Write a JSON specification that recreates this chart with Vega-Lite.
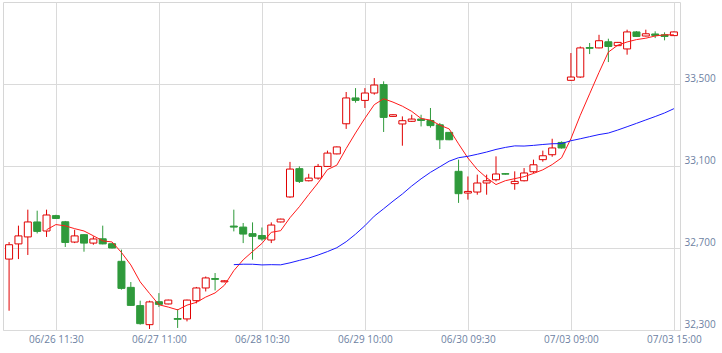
{
  "$schema": "https://vega.github.io/schema/vega-lite/v6.json",
  "width": 677,
  "height": 328,
  "autosize": {"type": "none"},
  "padding": {"left": 3, "top": 2, "right": 42, "bottom": 23},
  "background": "white",
  "config": {
    "view": {"stroke": "#d6d6d6", "strokeWidth": 1},
    "axis": {"gridColor": "#dadada", "gridWidth": 1, "labelFont": "Open Sans", "labelFontSize": 10, "labelColor": "#6d7fa2", "ticks": false, "tickSize": 0, "domain": false, "title": null, "labelOverlap": false, "labelBound": false}
  },
  "data": {"values": [
    {"t":"06/26 09:00","o":32646,"h":32729,"l":32394,"c":32716,"ma5":null,"ma25":null},
    {"t":"06/26 09:30","o":32720,"h":32809,"l":32646,"c":32759,"ma5":null,"ma25":null},
    {"t":"06/26 10:00","o":32754,"h":32887,"l":32666,"c":32827,"ma5":null,"ma25":null},
    {"t":"06/26 10:30","o":32827,"h":32882,"l":32771,"c":32781,"ma5":null,"ma25":null},
    {"t":"06/26 11:00","o":32783,"h":32887,"l":32754,"c":32861,"ma5":32788.8,"ma25":null},
    {"t":"06/26 11:30","o":32858,"h":32862,"l":32842,"c":32844,"ma5":32814.4,"ma25":null},
    {"t":"06/26 12:30","o":32828,"h":32832,"l":32705,"c":32727,"ma5":32808,"ma25":null},
    {"t":"06/26 13:00","o":32729,"h":32789,"l":32724,"c":32759,"ma5":32794.4,"ma25":null},
    {"t":"06/26 13:30","o":32765,"h":32767,"l":32682,"c":32724,"ma5":32783,"ma25":null},
    {"t":"06/26 14:00","o":32724,"h":32757,"l":32716,"c":32744,"ma5":32759.6,"ma25":null},
    {"t":"06/26 14:30","o":32745,"h":32809,"l":32718,"c":32720,"ma5":32734.8,"ma25":null},
    {"t":"06/26 15:00","o":32721,"h":32723,"l":32698,"c":32700,"ma5":32729.4,"ma25":null},
    {"t":"06/27 09:00","o":32635,"h":32692,"l":32497,"c":32503,"ma5":32678.2,"ma25":null},
    {"t":"06/27 09:30","o":32508,"h":32534,"l":32418,"c":32420,"ma5":32617.4,"ma25":null},
    {"t":"06/27 10:00","o":32419,"h":32443,"l":32326,"c":32331,"ma5":32534.8,"ma25":null},
    {"t":"06/27 10:30","o":32326,"h":32443,"l":32305,"c":32437,"ma5":32478.2,"ma25":null},
    {"t":"06/27 11:00","o":32438,"h":32480,"l":32412,"c":32425,"ma5":32423.2,"ma25":null},
    {"t":"06/27 11:30","o":32427,"h":32448,"l":32425,"c":32446,"ma5":32411.8,"ma25":null},
    {"t":"06/27 12:30","o":32356,"h":32402,"l":32310,"c":32352,"ma5":32398.2,"ma25":null},
    {"t":"06/27 13:00","o":32354,"h":32448,"l":32342,"c":32446,"ma5":32421.2,"ma25":null},
    {"t":"06/27 13:30","o":32443,"h":32510,"l":32430,"c":32505,"ma5":32434.8,"ma25":null},
    {"t":"06/27 14:00","o":32505,"h":32561,"l":32488,"c":32554,"ma5":32460.6,"ma25":null},
    {"t":"06/27 14:30","o":32551,"h":32578,"l":32493,"c":32547,"ma5":32480.8,"ma25":null},
    {"t":"06/27 15:00","o":32535,"h":32542,"l":32533,"c":32540,"ma5":32518.4,"ma25":null},
    {"t":"06/28 09:00","o":32807,"h":32887,"l":32781,"c":32802,"ma5":32589.6,"ma25":32618.8},
    {"t":"06/28 09:30","o":32802,"h":32822,"l":32724,"c":32768,"ma5":32642.2,"ma25":32620.9},
    {"t":"06/28 10:00","o":32770,"h":32825,"l":32643,"c":32757,"ma5":32682.8,"ma25":32620.8},
    {"t":"06/28 10:30","o":32761,"h":32800,"l":32736,"c":32744,"ma5":32722.2,"ma25":32617.5},
    {"t":"06/28 11:00","o":32739,"h":32825,"l":32724,"c":32812,"ma5":32776.6,"ma25":32618.7},
    {"t":"06/28 11:30","o":32827,"h":32843,"l":32825,"c":32841,"ma5":32784.4,"ma25":32617.9},
    {"t":"06/28 12:30","o":32949,"h":33120,"l":32945,"c":33085,"ma5":32847.8,"ma25":32627.6},
    {"t":"06/28 13:00","o":33087,"h":33098,"l":33017,"c":33025,"ma5":32901.4,"ma25":32639.5},
    {"t":"06/28 13:30","o":33028,"h":33062,"l":33025,"c":33041,"ma5":32960.8,"ma25":32650.8},
    {"t":"06/28 14:00","o":33041,"h":33110,"l":33033,"c":33098,"ma5":33018,"ma25":32665.7},
    {"t":"06/28 14:30","o":33098,"h":33175,"l":33095,"c":33163,"ma5":33082.4,"ma25":32682.5},
    {"t":"06/28 15:00","o":33159,"h":33195,"l":33157,"c":33193,"ma5":33104,"ma25":32701.4},
    {"t":"06/29 09:00","o":33306,"h":33461,"l":33281,"c":33432,"ma5":33185.4,"ma25":32730.7},
    {"t":"06/29 09:30","o":33432,"h":33480,"l":33409,"c":33420,"ma5":33261.2,"ma25":32767.4},
    {"t":"06/29 10:00","o":33420,"h":33480,"l":33383,"c":33456,"ma5":33332.8,"ma25":32808.8},
    {"t":"06/29 10:30","o":33456,"h":33529,"l":33448,"c":33495,"ma5":33399.2,"ma25":32855.4},
    {"t":"06/29 11:00","o":33497,"h":33513,"l":33266,"c":33337,"ma5":33428,"ma25":32891.4},
    {"t":"06/29 11:30","o":33342,"h":33352,"l":33340,"c":33350,"ma5":33411.6,"ma25":32928.4},
    {"t":"06/29 12:30","o":33305,"h":33342,"l":33199,"c":33321,"ma5":33391.8,"ma25":32963.4},
    {"t":"06/29 13:00","o":33318,"h":33350,"l":33315,"c":33329,"ma5":33366.4,"ma25":33002.4},
    {"t":"06/29 13:30","o":33329,"h":33350,"l":33293,"c":33322,"ma5":33331.8,"ma25":33037.5},
    {"t":"06/29 14:00","o":33322,"h":33383,"l":33287,"c":33297,"ma5":33323.8,"ma25":33069.2},
    {"t":"06/29 14:30","o":33301,"h":33310,"l":33183,"c":33228,"ma5":33299.4,"ma25":33096.1},
    {"t":"06/29 15:00","o":33264,"h":33266,"l":33226,"c":33228,"ma5":33280.8,"ma25":33123.4},
    {"t":"06/30 09:00","o":33074,"h":33131,"l":32920,"c":32965,"ma5":33208,"ma25":33140.4},
    {"t":"06/30 09:30","o":32968,"h":33049,"l":32936,"c":32976,"ma5":33138.8,"ma25":33147.3},
    {"t":"06/30 10:00","o":32973,"h":33058,"l":32960,"c":33017,"ma5":33082.8,"ma25":33157.3},
    {"t":"06/30 10:30","o":33017,"h":33058,"l":32960,"c":33028,"ma5":33042.8,"ma25":33168.1},
    {"t":"06/30 11:00","o":33033,"h":33147,"l":33025,"c":33061,"ma5":33009.4,"ma25":33180.8},
    {"t":"06/30 11:30","o":33063,"h":33065,"l":33058,"c":33060,"ma5":33028.4,"ma25":33190.7},
    {"t":"06/30 12:30","o":33014,"h":33074,"l":32984,"c":33025,"ma5":33038.2,"ma25":33198.1},
    {"t":"06/30 13:00","o":33028,"h":33090,"l":33025,"c":33066,"ma5":33048,"ma25":33197.3},
    {"t":"06/30 13:30","o":33072,"h":33131,"l":33065,"c":33106,"ma5":33063.6,"ma25":33200.6},
    {"t":"06/30 14:00","o":33131,"h":33175,"l":33121,"c":33150,"ma5":33081.4,"ma25":33204.9},
    {"t":"06/30 14:30","o":33155,"h":33233,"l":33145,"c":33188,"ma5":33107,"ma25":33208.5},
    {"t":"06/30 15:00","o":33215,"h":33220,"l":33185,"c":33188,"ma5":33139.6,"ma25":33209.5},
    {"t":"07/03 09:00","o":33518,"h":33651,"l":33515,"c":33534,"ma5":33233.2,"ma25":33223.2},
    {"t":"07/03 09:30","o":33534,"h":33683,"l":33530,"c":33676,"ma5":33347.2,"ma25":33232.9},
    {"t":"07/03 10:00","o":33678,"h":33700,"l":33646,"c":33674,"ma5":33452,"ma25":33243.1},
    {"t":"07/03 10:30","o":33676,"h":33740,"l":33674,"c":33711,"ma5":33556.6,"ma25":33253.3},
    {"t":"07/03 11:00","o":33706,"h":33721,"l":33607,"c":33683,"ma5":33655.6,"ma25":33260.8},
    {"t":"07/03 11:30","o":33687,"h":33705,"l":33685,"c":33703,"ma5":33689.4,"ma25":33275.4},
    {"t":"07/03 12:30","o":33671,"h":33765,"l":33643,"c":33754,"ma5":33705,"ma25":33291.6},
    {"t":"07/03 13:00","o":33754,"h":33758,"l":33730,"c":33732,"ma5":33716.6,"ma25":33308},
    {"t":"07/03 13:30","o":33734,"h":33765,"l":33732,"c":33745,"ma5":33723.4,"ma25":33324.7},
    {"t":"07/03 14:00","o":33744,"h":33757,"l":33724,"c":33737,"ma5":33734.2,"ma25":33341.3},
    {"t":"07/03 14:30","o":33740,"h":33752,"l":33713,"c":33732,"ma5":33740,"ma25":33358.7},
    {"t":"07/03 15:00","o":33736,"h":33756,"l":33734,"c":33754,"ma5":33740,"ma25":33379.7}
  ]},
  "encoding": {
    "x": {
      "field": "t", "type": "ordinal", "sort": null,
      "scale": {"type": "point", "padding": 0.65},
      "axis": {"orient": "bottom", "grid": true, "labelAngle": 0, "labelPadding": 4,
        "values": ["06/26 11:30","06/27 11:00","06/28 10:30","06/29 10:00","06/30 09:30","07/03 09:00","07/03 15:00"]}
    }
  },
  "layer": [
    {
      "mark": {"type": "rule", "strokeWidth": 1},
      "encoding": {
        "y": {"field": "l", "type": "quantitative",
          "scale": {"domain": [32300, 33900], "zero": false, "nice": false},
          "axis": {"orient": "right", "grid": true, "values": [32300, 32700, 33100, 33500], "format": ",d",
            "labelAlign": "left", "labelBaseline": "alphabetic", "labelOffset": -3, "labelPadding": 4}},
        "y2": {"field": "h"},
        "color": {"condition": {"test": "datum.c < datum.o", "value": "#2f9a3b"}, "value": "#e00000"}
      }
    },
    {
      "mark": {"type": "bar", "width": 7, "strokeWidth": 1},
      "encoding": {
        "y": {"field": "o", "type": "quantitative"},
        "y2": {"field": "c"},
        "fill": {"condition": {"test": "datum.c < datum.o", "value": "#2f9a3b"}, "value": "#ffffff"},
        "stroke": {"condition": {"test": "datum.c < datum.o", "value": "#2f9a3b"}, "value": "#e00000"}
      }
    },
    {
      "mark": {"type": "line", "color": "#ff1a1a", "strokeWidth": 1},
      "encoding": {"y": {"field": "ma5", "type": "quantitative"}}
    },
    {
      "mark": {"type": "line", "color": "#1a1aff", "strokeWidth": 1},
      "encoding": {"y": {"field": "ma25", "type": "quantitative"}}
    }
  ]
}
